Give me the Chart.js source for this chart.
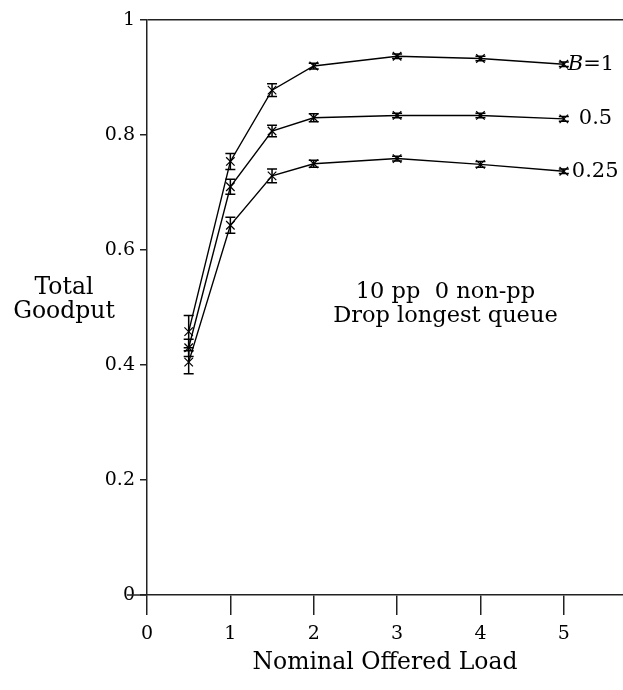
<!DOCTYPE html>
<html><head><meta charset="utf-8">
<script src="https://cdn.jsdelivr.net/npm/chart.js@4/dist/chart.umd.min.js"></script>
<style>html,body{margin:0;padding:0;background:#fff}#wrap{width:623px;height:690px}</style>
</head><body><div id="wrap"><canvas id="c" width="623" height="690"></canvas></div>
<script>
const loads = [0.5, 1, 1.5, 2, 3, 4, 5];
const goodputB1 = [0.458, 0.754, 0.878, 0.920, 0.937, 0.933, 0.923];
const errB1 = [0.028, 0.014, 0.011, 0.005, 0.004, 0.004, 0.004];
const goodputB05 = [0.430, 0.710, 0.807, 0.830, 0.834, 0.834, 0.828];
const errB05 = [0.015, 0.013, 0.010, 0.007, 0.004, 0.004, 0.004];
const goodputB025 = [0.405, 0.643, 0.729, 0.750, 0.759, 0.749, 0.737];
const errB025 = [0.020, 0.014, 0.012, 0.006, 0.004, 0.005, 0.004];
const seriesLabels = ['B=1', '0.5', '0.25'];
const yTicks = [0, 0.2, 0.4, 0.6, 0.8, 1];
const xTicks = [0, 1, 2, 3, 4, 5];
const yTitle = ['Total', 'Goodput'];
const xTitle = 'Nominal Offered Load';
const note = ['10 pp  0 non-pp', 'Drop longest queue'];

const FONT = "'DejaVu Serif', serif";
const INK = '#000';
const AXIS = '#222';

function mk(vals, errs, label) {
  return {
    label: label,
    data: loads.map((x, i) => ({x: x, y: vals[i], e: errs[i]})),
    borderColor: INK, backgroundColor: INK, borderWidth: 1.4,
    pointStyle: 'crossRot', pointRadius: 6, pointBorderWidth: 1.2,
    pointBorderColor: INK, tension: 0, fill: false
  };
}

const errorBars = {
  id: 'errorBars',
  afterDatasetsDraw(chart) {
    const ctx = chart.ctx, xs = chart.scales.x, ys = chart.scales.y;
    ctx.save();
    ctx.strokeStyle = INK; ctx.lineWidth = 1.5;
    chart.data.datasets.forEach(ds => {
      ds.data.forEach(p => {
        const px = xs.getPixelForValue(p.x);
        const y1 = ys.getPixelForValue(p.y + p.e), y2 = ys.getPixelForValue(p.y - p.e);
        ctx.beginPath();
        ctx.moveTo(px, y1); ctx.lineTo(px, y2);
        ctx.moveTo(px - 5, y1); ctx.lineTo(px + 5, y1);
        ctx.moveTo(px - 5, y2); ctx.lineTo(px + 5, y2);
        ctx.stroke();
      });
    });
    ctx.restore();
  }
};

const texts = {
  id: 'texts',
  afterDraw(chart) {
    const ctx = chart.ctx, xs = chart.scales.x, ys = chart.scales.y;
    ctx.save();
    ctx.fillStyle = INK;
    ctx.strokeStyle = AXIS; ctx.lineWidth = 1.5;
    ctx.beginPath();
    ctx.moveTo(xs.left - 20, ys.bottom); ctx.lineTo(xs.left, ys.bottom);
    ctx.stroke();
    ctx.font = "23.5px " + FONT;
    ctx.textAlign = 'center'; ctx.textBaseline = 'middle';
    ctx.fillText(yTitle[0], 64, 288);
    ctx.fillText(yTitle[1], 64, 312);
    ctx.fillText(xTitle, (xs.left + xs.right) / 2, 663);
    ctx.font = "22.5px " + FONT;
    const nx = xs.getPixelForValue(3.58);
    ctx.fillText(note[0], nx, 292);
    ctx.fillText(note[1], nx, 316);
    const lastX = xs.getPixelForValue(loads[loads.length - 1]);
    const ends = [goodputB1, goodputB05, goodputB025].map(a => a[a.length - 1]);
    ctx.textAlign = 'left';
    let yy = ys.getPixelForValue(ends[0]);
    ctx.font = "italic 21px " + FONT;
    const bw = ctx.measureText('B').width;
    ctx.fillText(seriesLabels[0].slice(0, 1), lastX + 4, yy);
    ctx.font = "21px " + FONT;
    ctx.fillText(seriesLabels[0].slice(1), lastX + 4 + bw, yy);
    ctx.fillText(seriesLabels[1], lastX + 15, ys.getPixelForValue(ends[1]));
    ctx.fillText(seriesLabels[2], lastX + 8, ys.getPixelForValue(ends[2]));
    ctx.restore();
  }
};

new Chart(document.getElementById('c'), {
  type: 'line',
  data: { datasets: [mk(goodputB1, errB1, seriesLabels[0]), mk(goodputB05, errB05, seriesLabels[1]), mk(goodputB025, errB025, seriesLabels[2])] },
  options: {
    responsive: false, animation: false, devicePixelRatio: 1,
    layout: { autoPadding: false, padding: { top: 20, right: 0, left: 0, bottom: 0 } },
    plugins: { legend: { display: false }, tooltip: { enabled: false } },
    scales: {
      x: {
        type: 'linear', min: 0, max: 5.71,
        afterFit(s) { s.height = 95; s.paddingRight = 0; s.paddingLeft = 0; },
        afterBuildTicks(s) { s.ticks = xTicks.map(v => ({value: v})); },
        ticks: { stepSize: 1, includeBounds: false, color: INK, padding: 8, font: { family: FONT, size: 19 } },
        grid: { drawOnChartArea: false, tickLength: 20, tickColor: AXIS, lineWidth: 1.5 },
        border: { color: AXIS, width: 1.5 }
      },
      y: {
        min: 0, max: 1,
        afterFit(s) { s.width = 147; },
        afterBuildTicks(s) { s.ticks = yTicks.map(v => ({value: v})); },
        ticks: { color: INK, padding: 5, font: { family: FONT, size: 19 },
          callback: v => (v === 0 || v === 1) ? String(v) : v.toFixed(1) },
        grid: { drawOnChartArea: true, tickLength: 7, tickColor: AXIS, lineWidth: 1.5,
          color: c => (c.tick && c.tick.value === 1) ? AXIS : 'rgba(0,0,0,0)' },
        border: { color: AXIS, width: 1.5 }
      }
    }
  },
  plugins: [errorBars, texts]
});
</script></body></html>
